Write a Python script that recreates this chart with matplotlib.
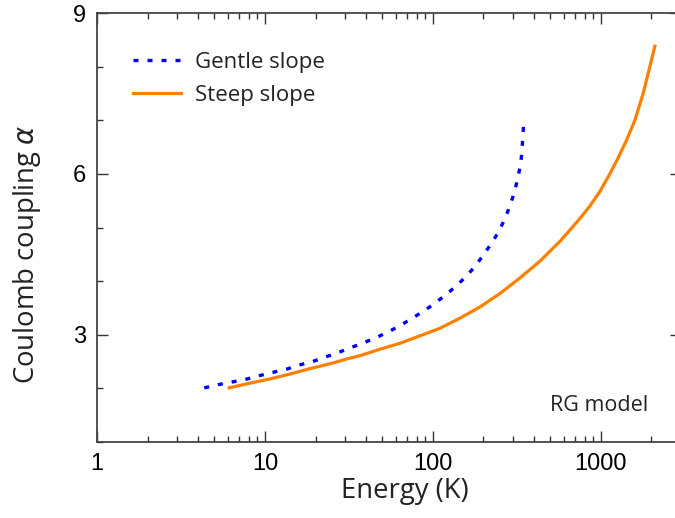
import matplotlib
matplotlib.use("Agg")
import matplotlib.pyplot as plt
from matplotlib.ticker import LogLocator, MultipleLocator, FixedLocator

# Values
gentle_E = [4.35, 5.27, 6.39, 7.71, 9.34, 11.2, 13.5, 16.2, 19.2, 23.2, 27.9,
            33.1, 39.4, 46.9, 55.5, 64.5, 76.3, 90.0, 105, 121, 140, 159, 181,
            202, 224, 247, 269, 287, 306, 319, 333, 339, 343, 347, 348]
gentle_a = [2.01, 2.07, 2.12, 2.17, 2.24, 2.30, 2.36, 2.44, 2.50, 2.59, 2.68,
            2.77, 2.86, 2.96, 3.07, 3.18, 3.32, 3.46, 3.61, 3.76, 3.93, 4.10, 4.30,
            4.51, 4.71, 4.93, 5.17, 5.40, 5.66, 5.90, 6.18, 6.43, 6.69, 6.95, 7.04]

steep_E = [6.13, 7.95, 10.5, 13.8, 18.1, 25.2, 30.8, 36.8, 48.4, 63.6, 83.7,
           110, 145, 191, 251, 330, 433, 578, 733, 860, 986, 1131, 1268, 1422,
           1594, 1786, 1957, 2096]
steep_a = [2.01, 2.09, 2.17, 2.26, 2.36, 2.47, 2.55, 2.61, 2.73, 2.84, 2.98,
           3.12, 3.31, 3.52, 3.77, 4.06, 4.37, 4.76, 5.13, 5.40, 5.67, 6.00, 6.30, 6.63,
           7.00, 7.50, 8.00, 8.38]

x_ticks = [1, 10, 100, 1000]
x_ticklabels = ['1', '10', '100', '1000']
y_ticks = [3, 6, 9]

fig = plt.figure(figsize=(6.75, 5.18), dpi=100)
ax = fig.add_axes([97 / 675, 76 / 518, 584 / 675, 429 / 518])

ax.plot(gentle_E, gentle_a, color='#0000ff', lw=2.4, linestyle=(0, (1.5, 2.7)),
        label='Gentle slope')
ax.plot(steep_E, steep_a, color='#ff8000', lw=2.3, label='Steep slope')

ax.set_xscale('log')
ax.set_xlim(1, 3000)
ax.set_ylim(1, 9)

ax.xaxis.set_major_locator(FixedLocator(x_ticks))
ax.set_xticklabels(x_ticklabels)
ax.xaxis.set_minor_locator(LogLocator(base=10, subs=range(2, 10)))
ax.xaxis.set_minor_formatter(plt.NullFormatter())
ax.yaxis.set_major_locator(FixedLocator(y_ticks))
ax.yaxis.set_minor_locator(MultipleLocator(1))

ax.tick_params(which='both', direction='in', top=True, right=True, colors='#333333',
               labelcolor='black')
ax.tick_params(which='major', length=8, width=1.0)
ax.tick_params(which='minor', length=4, width=1.0)
ax.tick_params(axis='x', pad=8)
ax.tick_params(axis='y', pad=8)
for lab in ax.get_xticklabels() + ax.get_yticklabels():
    lab.set_family('Liberation Sans')
    lab.set_fontsize(17)

for s in ax.spines.values():
    s.set_color('#444444')
    s.set_linewidth(1.3)

ax.set_xlabel('Energy (K)', fontsize=19.8, family='Open Sans', color='#222222')
ax.set_ylabel(r'Coulomb coupling $\alpha$', fontsize=19.8, family='Open Sans',
              color='#222222')
ax.xaxis.set_label_coords(0.527, -0.082)
ax.yaxis.set_label_coords(-0.093, 0.438)

ax.text(0.775, 0.085, 'RG model', transform=ax.transAxes, fontsize=15.5,
        family='Open Sans', color='#222222', ha='left', va='center')

leg = ax.legend(loc='upper left', frameon=False, prop={'family': 'Open Sans', 'size': 16},
                handlelength=2.15, handletextpad=0.63, labelspacing=0.53,
                bbox_to_anchor=(0.027, 0.956), labelcolor='#222222')

fig.savefig('out.png', dpi=100)
